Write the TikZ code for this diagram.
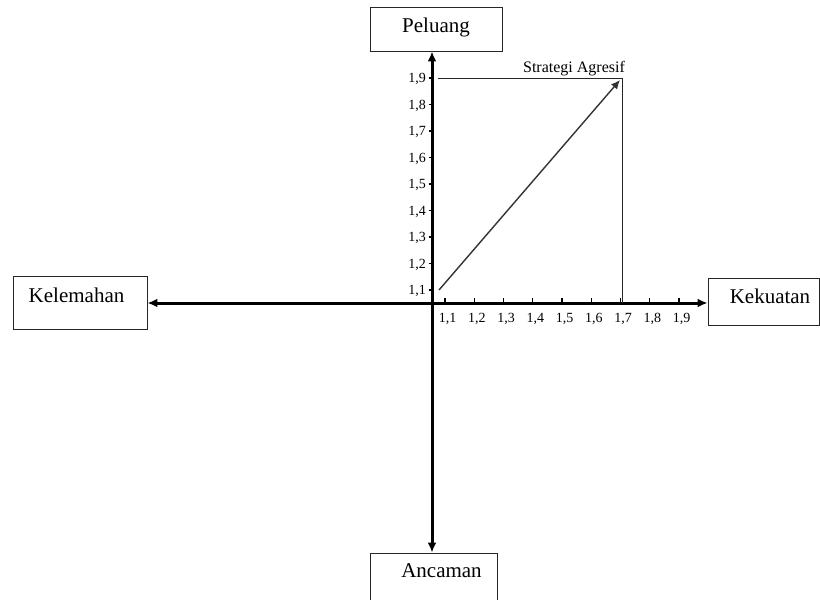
\documentclass[tikz,border=0pt]{standalone}
\usepackage{fontspec}
\setmainfont{Liberation Serif}
\usetikzlibrary{arrows.meta,calc}
\tikzset{
  box/.style={draw=black!85, line width=0.9pt, rectangle, inner sep=0pt},
  boxtext/.style={font=\fontsize{21}{24}\selectfont, anchor=base, inner sep=0pt},
  axisline/.style={line width=3pt, {Latex[length=10pt,width=9pt]}-{Latex[length=10pt,width=9pt]}},
  tickmark/.style={line width=1.1pt},
  ticklabel/.style={font=\fontsize{14}{16}\selectfont, inner sep=0pt},
  thinline/.style={line width=1pt, black!85},
  strat/.style={line width=1.4pt, black!80, -{Latex[length=9pt,width=8pt]}},
}
\begin{document}
\begin{tikzpicture}[x=1pt,y=-1pt]
\useasboundingbox (0,0) rectangle (820,600);
\clip (0,0) rectangle (820,600);
% boxes
\node[box, minimum width=132pt, minimum height=44pt] (pel) at (436,29) {};
\node[box, minimum width=134pt, minimum height=53pt] (kel) at (80,302.5) {};
\node[box, minimum width=111pt, minimum height=47pt] (kek) at (763.5,301.5) {};
\node[box, minimum width=127pt, minimum height=53pt] (anc) at (433.5,579.5) {};
\node[boxtext] (pelt) at (436,32) {Peluang};
\node[boxtext] (kelt) at (76.5,302) {Kelemahan};
\node[boxtext] (kekt) at (770,303) {Kekuatan};
\node[boxtext] (anct) at (441.5,577) {Ancaman};
% axes
\coordinate (O) at (432,303);
\draw[axisline] (kel.east |- O) -- (kek.west |- O);
\draw[axisline] (pel.south -| O) -- (anc.north -| O);
% x ticks
\foreach \i/\lab in {0/{1,1},1/{1,2},2/{1,3},3/{1,4},4/{1,5},5/{1,6},6/{1,7},7/{1,8},8/{1,9}} {
  \pgfmathsetmacro{\xx}{445+29.25*\i}
  \draw[tickmark] (\xx,298) -- (\xx,303);
  \node[ticklabel, anchor=base] (xl\i) at (\xx+2.5,322) {\lab};
}
% y ticks
\foreach \j/\lab in {0/{1,1},1/{1,2},2/{1,3},3/{1,4},4/{1,5},5/{1,6},6/{1,7},7/{1,8},8/{1,9}} {
  \pgfmathsetmacro{\yy}{290-26.5*\j}
  \draw[tickmark] (428.5,\yy) -- (432,\yy);
  \node[ticklabel, anchor=base east] (yl\j) at (426,\yy+4.5) {\lab};
}
% strategy lines
\coordinate (hs) at (438,78);
\coordinate (corner) at (622,78);
\coordinate (foot) at (622,303);
\coordinate (dstart) at (439,290);
\coordinate (dend) at (620,80);
\draw[thinline] (hs) -- (corner) -- (foot);
\draw[strat] (dstart) -- (dend);
\node[font=\fontsize{16}{18}\selectfont, anchor=base, inner sep=0pt] (stl) at (574,72) {Strategi Agresif};
\end{tikzpicture}
\end{document}
